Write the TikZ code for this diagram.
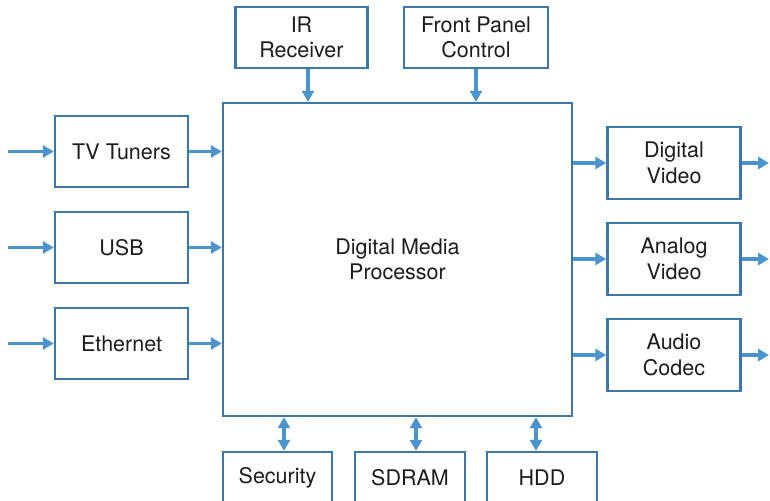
\documentclass[tikz,border=0pt]{standalone}
\usepackage{fontspec}
\setmainfont{TeX Gyre Heros}
\usetikzlibrary{arrows.meta,calc}
\definecolor{boxblue}{RGB}{60,120,171}
\definecolor{arrowblue}{RGB}{76,148,207}
\definecolor{inkgray}{RGB}{28,28,28}
\tikzset{
  blk/.style={draw=boxblue, line width=2.4pt, rectangle, inner sep=0pt,
    align=center, text=inkgray, font=\fontsize{21.5}{25.6}\selectfont},
  flow/.style={draw=arrowblue, line width=3.2pt,
    -{Triangle[length=11pt,width=12pt]}},
  bidir/.style={draw=arrowblue, line width=3.2pt,
    {Triangle[length=11pt,width=12pt]}-{Triangle[length=11pt,width=12pt]}},
}
\begin{document}
\begin{tikzpicture}[x=1pt,y=-1pt]
\useasboundingbox (0,0) rectangle (770,500);
\clip (0,0) rectangle (770,500);

% central processor
\node[blk, minimum width=349pt, minimum height=313pt] (dmp) at (397.5,259.5)
  {Digital Media\\Processor};

% control inputs on top
\node[blk, minimum width=132pt, minimum height=61pt] (ir) at (301.5,37.5) {IR\\Receiver};
\node[blk, minimum width=144pt, minimum height=61pt] (fp) at (476,37.5) {Front Panel\\Control};

% input interfaces on the left
\node[blk, minimum width=133pt, minimum height=71pt] (tv)  at (121.5,151.5) {TV Tuners};
\node[blk, minimum width=133pt, minimum height=71pt] (usb) at (121.5,247.5) {USB};
\node[blk, minimum width=133pt, minimum height=71pt] (eth) at (121.5,343.5) {Ethernet};

% output interfaces on the right
\node[blk, minimum width=133pt, minimum height=72pt] (dv) at (674,163) {Digital\\Video};
\node[blk, minimum width=133pt, minimum height=72pt] (av) at (674,259) {Analog\\Video};
\node[blk, minimum width=133pt, minimum height=72pt] (ac) at (674,355) {Audio\\Codec};

% memory and storage below
\node[blk, minimum width=109pt, minimum height=51pt] (sec)   at (277.5,477.5) {Security};
\node[blk, minimum width=110pt, minimum height=51pt] (sdram) at (410,477.5) {SDRAM};
\node[blk, minimum width=110pt, minimum height=51pt] (hdd)   at (542,477.5) {HDD};

% free ends of the external signals
\coordinate (tvin)  at (8,151.5);
\coordinate (usbin) at (8,247.5);
\coordinate (ethin) at (8,343.5);
\coordinate (dvout) at (769,163);
\coordinate (avout) at (769,259);
\coordinate (acout) at (769,355);

% left side
\draw[flow] (tvin) -- (tv.west);
\draw[flow] (usbin) -- (usb.west);
\draw[flow] (ethin) -- (eth.west);
\draw[flow] (tv.east) -- (tv.east -| dmp.west);
\draw[flow] (usb.east) -- (usb.east -| dmp.west);
\draw[flow] (eth.east) -- (eth.east -| dmp.west);

% top
\draw[flow] ([xshift=6.5pt]ir.south) -- ([xshift=6.5pt]ir.south |- dmp.north);
\draw[flow] (fp.south) -- (fp.south |- dmp.north);

% right side
\draw[flow] (dv.west -| dmp.east) -- (dv.west);
\draw[flow] (av.west -| dmp.east) -- (av.west);
\draw[flow] (ac.west -| dmp.east) -- (ac.west);
\draw[flow] (dv.east) -- (dvout);
\draw[flow] (av.east) -- (avout);
\draw[flow] (ac.east) -- (acout);

% bottom, bidirectional
\draw[bidir] ([xshift=6.5pt]sec.north |- dmp.south) -- ([xshift=6.5pt]sec.north);
\draw[bidir] ([xshift=6pt]sdram.north |- dmp.south) -- ([xshift=6pt]sdram.north);
\draw[bidir] ([xshift=-6pt]hdd.north |- dmp.south) -- ([xshift=-6pt]hdd.north);
\end{tikzpicture}
\end{document}
